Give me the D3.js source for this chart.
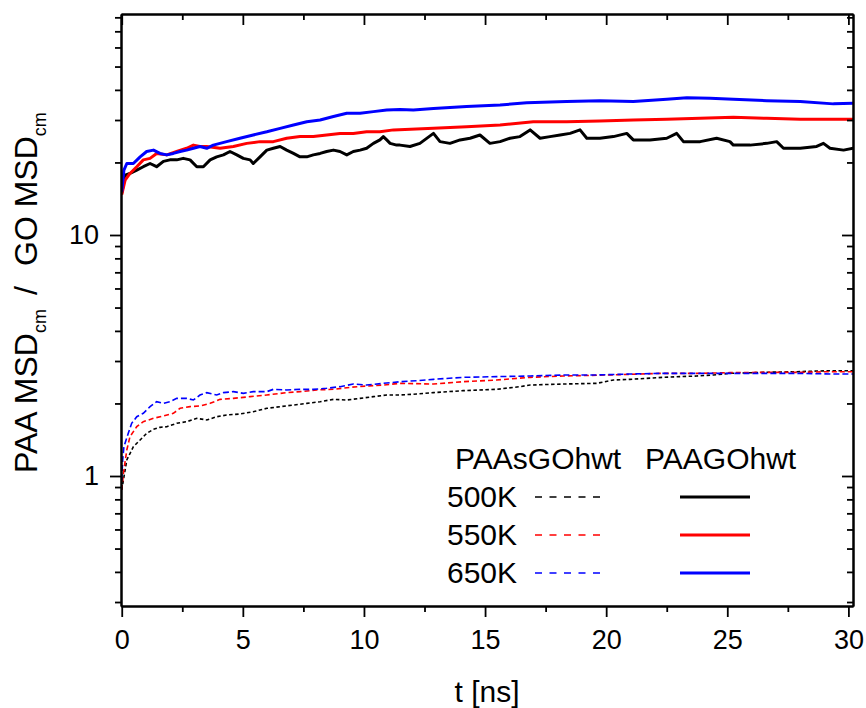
<!DOCTYPE html>
<html>
<head>
<meta charset="utf-8">
<script src="https://cdn.jsdelivr.net/npm/d3@7"></script>
<style>
  html, body { margin: 0; padding: 0; background: #fff; }
  svg { display: block; font-family: "Liberation Sans", Arial, sans-serif; }
</style>
</head>
<body>
<svg id="chart" width="866" height="708"></svg>
<script>
// Ratio of centre-of-mass MSD (PAA / GO) versus time, [t (ns), ratio]

// PAAsGOhwt (dashed)
const sgo500 = [[0,0.875],[0.07,0.962],[0.21,1.165],[0.48,1.323],[0.76,1.411],[1.03,1.503],[1.31,1.562],[1.58,1.592],[1.86,1.602],[2.27,1.654],[2.68,1.680],[3.10,1.735],[3.51,1.708],[3.92,1.762],[4.33,1.791],[4.88,1.808],[5.43,1.849],[5.99,1.909],[6.54,1.940],[7.09,1.970],[7.64,2.002],[8.19,2.034],[8.74,2.080],[9.29,2.067],[9.84,2.100],[10.39,2.134],[10.94,2.168],[11.49,2.168],[12.18,2.189],[12.87,2.218],[14.10,2.260],[15.48,2.289],[16.44,2.348],[16.86,2.385],[18.23,2.408],[19.61,2.424],[20.30,2.502],[20.98,2.518],[22.36,2.567],[23.74,2.600],[24.43,2.625],[25.11,2.667],[26.49,2.692],[27.87,2.709],[29.24,2.735],[30.2,2.735]];
const sgo550 = [[0,0.875],[0.07,1.026],[0.21,1.282],[0.34,1.456],[0.62,1.602],[0.89,1.680],[1.31,1.735],[1.72,1.774],[2.13,1.820],[2.41,1.909],[2.82,1.940],[3.23,1.952],[3.65,2.002],[4.06,2.080],[4.61,2.100],[5.30,2.134],[5.99,2.168],[6.81,2.218],[7.36,2.239],[8.05,2.275],[8.74,2.289],[9.43,2.333],[10.11,2.362],[10.80,2.385],[11.49,2.424],[12.87,2.408],[14.10,2.462],[15.48,2.502],[16.86,2.567],[18.23,2.600],[19.61,2.617],[20.98,2.642],[22.36,2.667],[23.74,2.667],[25.11,2.684],[26.49,2.692],[27.87,2.692],[29.24,2.709],[30.2,2.709]];
const sgo650 = [[0,0.962],[0.04,1.165],[0.09,1.323],[0.27,1.503],[0.41,1.654],[0.62,1.762],[0.89,1.820],[1.17,1.940],[1.44,2.034],[1.72,2.002],[1.99,2.034],[2.27,2.100],[2.68,2.100],[2.96,2.067],[3.23,2.168],[3.51,2.218],[3.92,2.168],[4.20,2.218],[4.61,2.239],[5.02,2.203],[5.43,2.239],[5.99,2.239],[6.26,2.289],[6.81,2.275],[7.36,2.289],[7.91,2.289],[8.46,2.311],[9.01,2.348],[9.56,2.408],[10.11,2.385],[10.80,2.424],[11.49,2.462],[12.18,2.486],[12.87,2.518],[14.10,2.567],[15.48,2.584],[16.86,2.600],[18.23,2.625],[19.61,2.625],[20.98,2.650],[22.36,2.667],[23.74,2.667],[25.11,2.667],[26.49,2.667],[27.87,2.667],[29.24,2.650],[30.2,2.650]];

// PAAGOhwt (solid)
const go500 = [[0,14.9],[0.14,17.7],[0.34,18.0],[0.62,18.6],[0.89,19.2],[1.17,19.8],[1.44,19.2],[1.72,20.2],[1.99,20.5],[2.27,20.5],[2.54,20.8],[2.82,20.5],[3.10,19.2],[3.37,19.2],[3.65,20.5],[3.92,21.1],[4.20,21.5],[4.47,22.2],[4.75,21.5],[5.02,20.8],[5.30,20.5],[5.43,19.8],[5.71,21.1],[5.99,22.5],[6.26,22.9],[6.54,23.3],[6.81,22.5],[7.09,21.8],[7.36,21.1],[7.64,21.1],[7.91,21.5],[8.19,21.8],[8.46,22.2],[8.74,22.5],[9.01,22.2],[9.29,21.5],[9.56,22.2],[9.84,22.5],[10.11,22.9],[10.39,24.0],[10.66,24.8],[10.80,25.6],[10.94,24.8],[11.08,24.0],[11.35,23.6],[11.49,23.6],[11.90,23.3],[12.31,24.0],[12.87,26.4],[13.14,24.4],[13.55,24.0],[13.97,24.8],[14.38,25.2],[14.79,26.0],[15.20,24.0],[15.62,24.4],[16.03,25.2],[16.44,25.6],[16.86,27.3],[17.27,25.2],[17.68,25.6],[18.10,26.0],[18.51,26.4],[18.92,27.3],[19.20,25.2],[19.74,25.2],[20.30,25.6],[20.85,26.4],[21.12,24.8],[21.81,24.8],[22.50,25.2],[22.91,26.4],[23.19,24.4],[23.88,24.4],[24.56,25.2],[25.11,24.4],[25.25,23.6],[25.94,23.6],[26.63,24.0],[27.04,24.4],[27.32,22.9],[28.01,22.9],[28.69,23.3],[28.97,24.0],[29.24,22.9],[29.80,22.5],[30.2,22.9]];
const go550 = [[0,14.7],[0.14,16.9],[0.34,18.0],[0.62,19.2],[0.89,20.5],[1.17,20.8],[1.44,21.8],[1.86,21.5],[2.27,22.2],[2.68,22.9],[2.96,23.6],[3.23,23.3],[3.51,23.3],[4.06,22.9],[4.61,23.3],[5.16,24.0],[5.71,24.4],[6.26,24.4],[6.81,25.2],[7.36,25.6],[7.91,25.6],[8.46,26.0],[9.01,26.4],[9.56,26.4],[10.11,26.8],[10.66,26.8],[11.22,27.3],[12.87,27.7],[14.24,28.1],[15.62,28.6],[16.99,29.5],[18.37,29.5],[19.74,29.7],[21.12,30.0],[22.50,30.2],[23.88,30.5],[25.25,30.8],[26.63,30.5],[28.01,30.2],[29.38,30.2],[30.2,30.2]];
const go650 = [[0,15.1],[0.09,18.6],[0.21,19.8],[0.48,19.8],[0.76,21.1],[1.03,22.2],[1.31,22.5],[1.58,21.8],[1.86,21.5],[2.13,21.8],[2.41,22.2],[2.68,22.5],[2.96,22.9],[3.23,23.3],[3.51,22.9],[3.78,23.6],[4.33,24.4],[4.88,25.2],[5.43,26.0],[5.99,26.8],[6.54,27.7],[7.09,28.6],[7.64,29.5],[8.19,30.0],[8.74,31.0],[9.29,32.0],[9.84,32.0],[10.39,32.5],[10.94,33.0],[11.49,33.2],[12.04,33.0],[12.87,33.5],[14.24,34.1],[15.62,34.6],[16.72,35.4],[18.37,35.8],[19.74,36.1],[21.12,35.8],[22.50,36.6],[23.33,37.1],[24.29,36.9],[25.25,36.6],[26.63,36.1],[28.01,35.8],[29.38,35.0],[30.2,35.2]];

const temperatures = ["500K", "550K", "650K"];
const systems = ["PAAsGOhwt", "PAAGOhwt"];
const xMajorTicks = [0, 5, 10, 15, 20, 25, 30];
const xMinorTicks = [2.5, 7.5, 12.5, 17.5, 22.5, 27.5];
const yMajorTicks = [1, 10];
const yMinorTicks = [0.3, 0.4, 0.5, 0.6, 0.7, 0.8, 0.9, 2, 3, 4, 5, 6, 7, 8, 9, 20, 30, 40, 50, 60, 70, 80];

const colors = ["#000000", "#ff0000", "#0000ff"];
const dashedSeries = [sgo500, sgo550, sgo650];
const solidSeries = [go500, go550, go650];

const svg = d3.select("#chart");
const L = 121, R = 853, T = 14, B = 606;

const x = d3.scaleLinear().domain([-0.03, 30.19]).range([L, R]);
const y = d3.scaleLog().domain([0.2888, 82.6]).range([B, T]);

svg.append("defs").append("clipPath").attr("id", "plotClip")
  .append("rect").attr("x", L).attr("y", T).attr("width", R - L).attr("height", B - T);

const plot = svg.append("g").attr("clip-path", "url(#plotClip)");
const line = d3.line().x(d => x(d[0])).y(d => y(d[1]));

const dashPatterns = ["3.5,2.5", "5,3", "6,3"];
dashedSeries.forEach((s, i) => {
  plot.append("path").attr("d", line(s)).attr("fill", "none")
    .attr("stroke", colors[i]).attr("stroke-width", 1.6)
    .attr("stroke-dasharray", dashPatterns[i]);
});
solidSeries.forEach((s, i) => {
  plot.append("path").attr("d", line(s)).attr("fill", "none")
    .attr("stroke", colors[i]).attr("stroke-width", 3)
    .attr("stroke-linejoin", "round");
});

// Axes: outward ticks on left/bottom, inward mirrored ticks on top/right
function styleAxis(g) {
  g.select(".domain").attr("stroke", "#000").attr("stroke-width", 2);
  g.selectAll(".tick line").attr("stroke", "#000").attr("stroke-width", 1.8);
  g.selectAll(".tick text").attr("fill", "#000").attr("font-size", 27)
    .attr("font-family", "'Liberation Sans', Arial, sans-serif");
}

svg.append("g").attr("transform", `translate(0,${B})`)
  .call(d3.axisBottom(x).tickValues(xMajorTicks).tickSize(11).tickSizeOuter(0).tickPadding(13).tickFormat(d3.format("d")))
  .call(styleAxis);
svg.append("g").attr("transform", `translate(0,${B})`)
  .call(d3.axisBottom(x).tickValues(xMinorTicks).tickSize(6).tickSizeOuter(0).tickFormat(""))
  .call(styleAxis);
svg.append("g").attr("transform", `translate(0,${T})`)
  .call(d3.axisTop(x).tickValues(xMajorTicks).tickSize(-11).tickSizeOuter(0).tickFormat(""))
  .call(styleAxis);
svg.append("g").attr("transform", `translate(0,${T})`)
  .call(d3.axisTop(x).tickValues(xMinorTicks).tickSize(-6).tickSizeOuter(0).tickFormat(""))
  .call(styleAxis);

svg.append("g").attr("transform", `translate(${L},0)`)
  .call(d3.axisLeft(y).tickValues(yMajorTicks).tickSize(11).tickSizeOuter(0).tickPadding(11).tickFormat(d3.format("d")))
  .call(styleAxis);
svg.append("g").attr("transform", `translate(${L},0)`)
  .call(d3.axisLeft(y).tickValues(yMinorTicks).tickSize(6).tickSizeOuter(0).tickFormat(""))
  .call(styleAxis);
svg.append("g").attr("transform", `translate(${R},0)`)
  .call(d3.axisRight(y).tickValues(yMajorTicks).tickSize(-11).tickSizeOuter(0).tickFormat(""))
  .call(styleAxis);
svg.append("g").attr("transform", `translate(${R},0)`)
  .call(d3.axisRight(y).tickValues(yMinorTicks).tickSize(-6).tickSizeOuter(0).tickFormat(""))
  .call(styleAxis);

// Axis titles
svg.append("text").attr("x", (L + R) / 2).attr("y", 702)
  .attr("text-anchor", "middle").attr("font-size", 30).attr("fill", "#000")
  .text("t [ns]");

const yTitle = svg.append("text")
  .attr("transform", "translate(37,473) rotate(-90)")
  .attr("font-size", 32).attr("fill", "#000");
yTitle.append("tspan").attr("x", 0).text("PAA MSD");
yTitle.append("tspan").attr("font-size", 18).attr("dy", 9).text("cm");
yTitle.append("tspan").attr("x", 178).attr("dy", -9).text("/");
yTitle.append("tspan").attr("x", 207).text("GO MSD");
yTitle.append("tspan").attr("font-size", 18).attr("dy", 9).text("cm");

// Legend
const legend = svg.append("g").attr("font-size", 30).attr("fill", "#000");
legend.append("text").attr("x", 455).attr("y", 469).text(systems[0]);
legend.append("text").attr("x", 645).attr("y", 469).text(systems[1]);
temperatures.forEach((lab, i) => {
  const yy = 497 + i * 38;
  legend.append("text").attr("x", 447).attr("y", yy + 10).text(lab);
  legend.append("line").attr("x1", 535).attr("x2", 601).attr("y1", yy).attr("y2", yy)
    .attr("stroke", colors[i]).attr("stroke-width", 1.5).attr("stroke-dasharray", "7,7.5");
  legend.append("line").attr("x1", 680).attr("x2", 750).attr("y1", yy).attr("y2", yy)
    .attr("stroke", colors[i]).attr("stroke-width", 3);
});
</script>
</body>
</html>
